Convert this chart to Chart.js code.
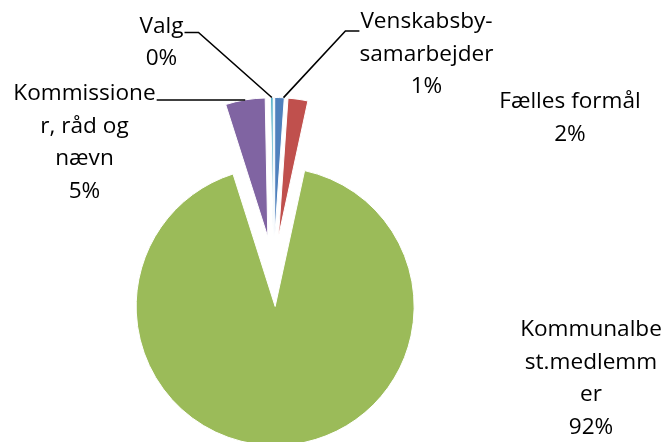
<!DOCTYPE html>
<html>
<head>
<meta charset="utf-8">
<script src="https://cdn.jsdelivr.net/npm/chart.js@4.4.1/dist/chart.umd.min.js"></script>
<style>
  html, body { margin: 0; padding: 0; background: #ffffff; }
  canvas { display: block; }
</style>
</head>
<body>
<canvas id="c" width="665" height="442"></canvas>
<script>
// ---- data ----
const categories = ['Venskabsby-samarbejder', 'Fælles formål', 'Kommunalbest.medlemmer', 'Kommissioner, råd og nævn', 'Valg'];
const values = [1.1, 2.3, 91.7, 4.6, 0.3];
const labelLines = [
  ['Venskabsby-', 'samarbejder'],
  ['Fælles formål'],
  ['Kommunalbe', 'st.medlemm', 'er'],
  ['Kommissione', 'r, råd og', 'nævn'],
  ['Valg']
];
const colors = ['#4F81BD', '#C0504D', '#9BBB59', '#8064A2', '#4BACC6'];

// ---- layout (label placement) ----
const EXPLODE = 35;
const FONT = '22.6px "Open Sans"';
const LINE_H = 32.5;
const labelLayout = [
  { cx: 426.5, y0: 28,  leader: 'left'  },
  { cx: 570,   y0: 108, leader: null    },
  { cx: 591,   y0: 336, leader: null    },
  { cx: 84.5,  y0: 100, leader: 'right' },
  { cx: 161.5, y0: 32.5, leader: 'rightElbow' }
];

const total = values.reduce((a, b) => a + b, 0);

const explodePlugin = {
  id: 'explode',
  afterDatasetsUpdate(chart) {
    chart.getDatasetMeta(0).data.forEach(arc => {
      const mid = (arc.startAngle + arc.endAngle) / 2;
      arc.x += Math.cos(mid) * EXPLODE;
      arc.y += Math.sin(mid) * EXPLODE;
    });
  }
};

const labelPlugin = {
  id: 'pieLabels',
  afterDraw(chart) {
    const ctx = chart.ctx;
    const arcs = chart.getDatasetMeta(0).data;
    ctx.save();
    ctx.font = FONT;
    ctx.fillStyle = '#000000';
    ctx.strokeStyle = '#000000';
    ctx.lineWidth = 1.6;
    ctx.textAlign = 'center';
    ctx.textBaseline = 'alphabetic';
    arcs.forEach((arc, i) => {
      const L = labelLayout[i];
      const lines = labelLines[i].concat([Math.round(values[i] / total * 100) + '%']);
      lines.forEach((t, k) => ctx.fillText(t, L.cx, L.y0 + k * LINE_H));
      if (!L.leader) return;
      const mid = (arc.startAngle + arc.endAngle) / 2;
      const px = arc.x + Math.cos(mid) * arc.outerRadius;
      const py = arc.y + Math.sin(mid) * arc.outerRadius;
      const w = ctx.measureText(lines[0]).width;
      ctx.beginPath();
      if (L.leader === 'right') {
        const sx = L.cx + w / 2 + 1;
        ctx.moveTo(sx, L.y0);
        ctx.lineTo(px, L.y0);
      } else if (L.leader === 'rightElbow') {
        const sx = L.cx + w / 2 + 1;
        ctx.moveTo(sx, L.y0);
        ctx.lineTo(sx + 14, L.y0);
        ctx.lineTo(px, py);
      } else if (L.leader === 'left') {
        const sx = L.cx - w / 2 - 1;
        const ly = L.y0 + 3;
        ctx.moveTo(sx, ly);
        ctx.lineTo(sx - 14, ly);
        ctx.lineTo(px + 4, py);
      }
      ctx.stroke();
    });
    ctx.restore();
  }
};

new Chart(document.getElementById('c'), {
  type: 'pie',
  data: {
    labels: categories,
    datasets: [{
      data: values,
      backgroundColor: colors,
      borderColor: '#ffffff',
      borderWidth: 1,
      radius: 139
    }]
  },
  options: {
    responsive: false,
    animation: false,
    devicePixelRatio: 1,
    layout: { padding: { left: 0, right: 118, top: 101, bottom: 0 } },
    plugins: {
      legend: { display: false },
      tooltip: { enabled: false }
    }
  },
  plugins: [explodePlugin, labelPlugin]
});
</script>
</body>
</html>
